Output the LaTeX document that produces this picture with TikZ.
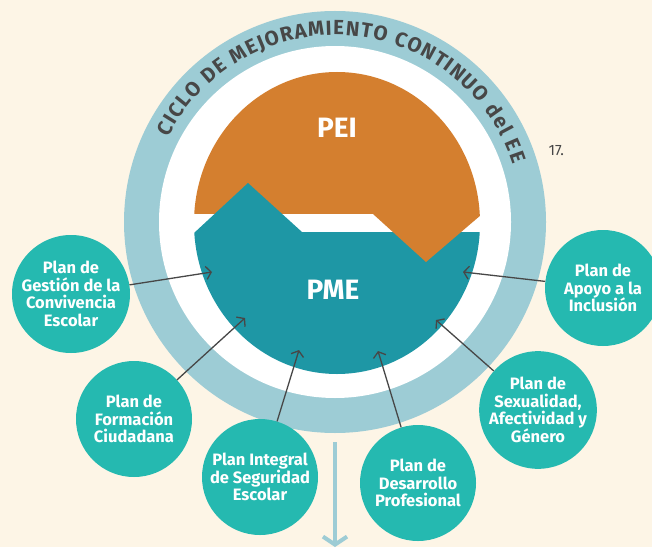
\documentclass[tikz,border=0pt]{standalone}
\usepackage{fontspec}
\setmainfont{Fira Sans}
\usetikzlibrary{arrows.meta,decorations.text}

\definecolor{crema}{HTML}{FDF5E6}
\definecolor{anillo}{HTML}{9DCCD5}
\definecolor{naranjo}{HTML}{D47F2F}
\definecolor{petroleo}{HTML}{1E97A5}
\definecolor{planverde}{HTML}{25B9B0}
\definecolor{tinta}{HTML}{474747}

\tikzset{
  plan/.style={circle, fill=planverde, minimum size=116pt, inner sep=0pt,
    align=center, text=white, font=\bfseries\fontsize{16.5}{17.5}\selectfont},
  flecha/.style={draw=tinta, line width=1.3pt,
    -{Straight Barb[length=5pt,width=13pt,line width=1.3pt]}},
  sigla/.style={text=white, font=\bfseries\fontsize{28}{28}\selectfont},
}

\begin{document}
\begin{tikzpicture}[x=1pt,y=1pt]
	\fill[crema] (0,0) rectangle (652,547);
	\useasboundingbox (0,0) rectangle (652,547);

	% anillo del ciclo
	\fill[anillo] (335,325) circle (211);
	\fill[white] (335,325) circle (176);
	\path[decorate, decoration={text along path, text align={fit to path},
		text color=tinta,
		text={|\bfseries\fontsize{20.5}{20.5}\selectfont|CICLO DE MEJORAMIENTO CONTINUO del EE}}]
		(335,325) ++(153:187) arc[start angle=153, end angle=18, radius=187];

	% PEI y PME
	\begin{scope}
		\clip (337,324) ellipse [x radius=143, y radius=151];
		\fill[naranjo] (180,333) rectangle (500,480);
		\fill[petroleo] (180,301) -- (248,364) -- (302,315) -- (500,315)
			-- (500,160) -- (180,160) -- cycle;
		\fill[naranjo] (373,333) -- (426,285) -- (495,344) -- (495,333) -- cycle;
	\end{scope}
	\node[sigla] (pei) at (337,419) {PEI};
	\node[sigla] (pme) at (333,257) {PME};

	\node[anchor=west, text=tinta, font=\fontsize{15}{15}\selectfont] (nota) at (545,396) {17.};

	% planes
	\node[plan, minimum size=118pt] (gestion) at (71,253) {Plan de\\Gestión de la\\Convivencia\\Escolar};
	\node[plan] (formacion) at (134,128) {Plan de\\Formación\\Ciudadana};
	\node[plan] (seguridad) at (260,70) {Plan Integral\\de Seguridad\\Escolar};
	\node[plan] (desarrollo) at (418,64) {Plan de\\Desarrollo\\Profesional};
	\node[plan] (sexualidad) at (538,137) {Plan de\\Sexualidad,\\Afectividad y\\Género};
	\node[plan] (apoyo) at (603,259) {Plan de\\Apoyo a la\\Inclusión};

	\coordinate (g-fin) at (212,275);
	\coordinate (f-fin) at (245,229);
	\coordinate (s-fin) at (299,197);
	\coordinate (d-fin) at (378,196);
	\coordinate (x-fin) at (436,227);
	\coordinate (a-fin) at (463,275);

	\draw[flecha] (gestion) -- (g-fin);
	\draw[flecha] (formacion) -- (f-fin);
	\draw[flecha] (seguridad) -- (s-fin);
	\draw[flecha] (desarrollo) -- (d-fin);
	\draw[flecha] (sexualidad) -- (x-fin);
	\draw[flecha] (apoyo) -- (a-fin);

	% salida del ciclo
	\coordinate (baja-ini) at (335,105);
	\coordinate (baja-fin) at (335,0);
	\draw[anillo, line width=4pt, -{Straight Barb[length=8pt,width=24pt,line width=4pt]}] (baja-ini) -- (baja-fin);
\end{tikzpicture}
\end{document}
